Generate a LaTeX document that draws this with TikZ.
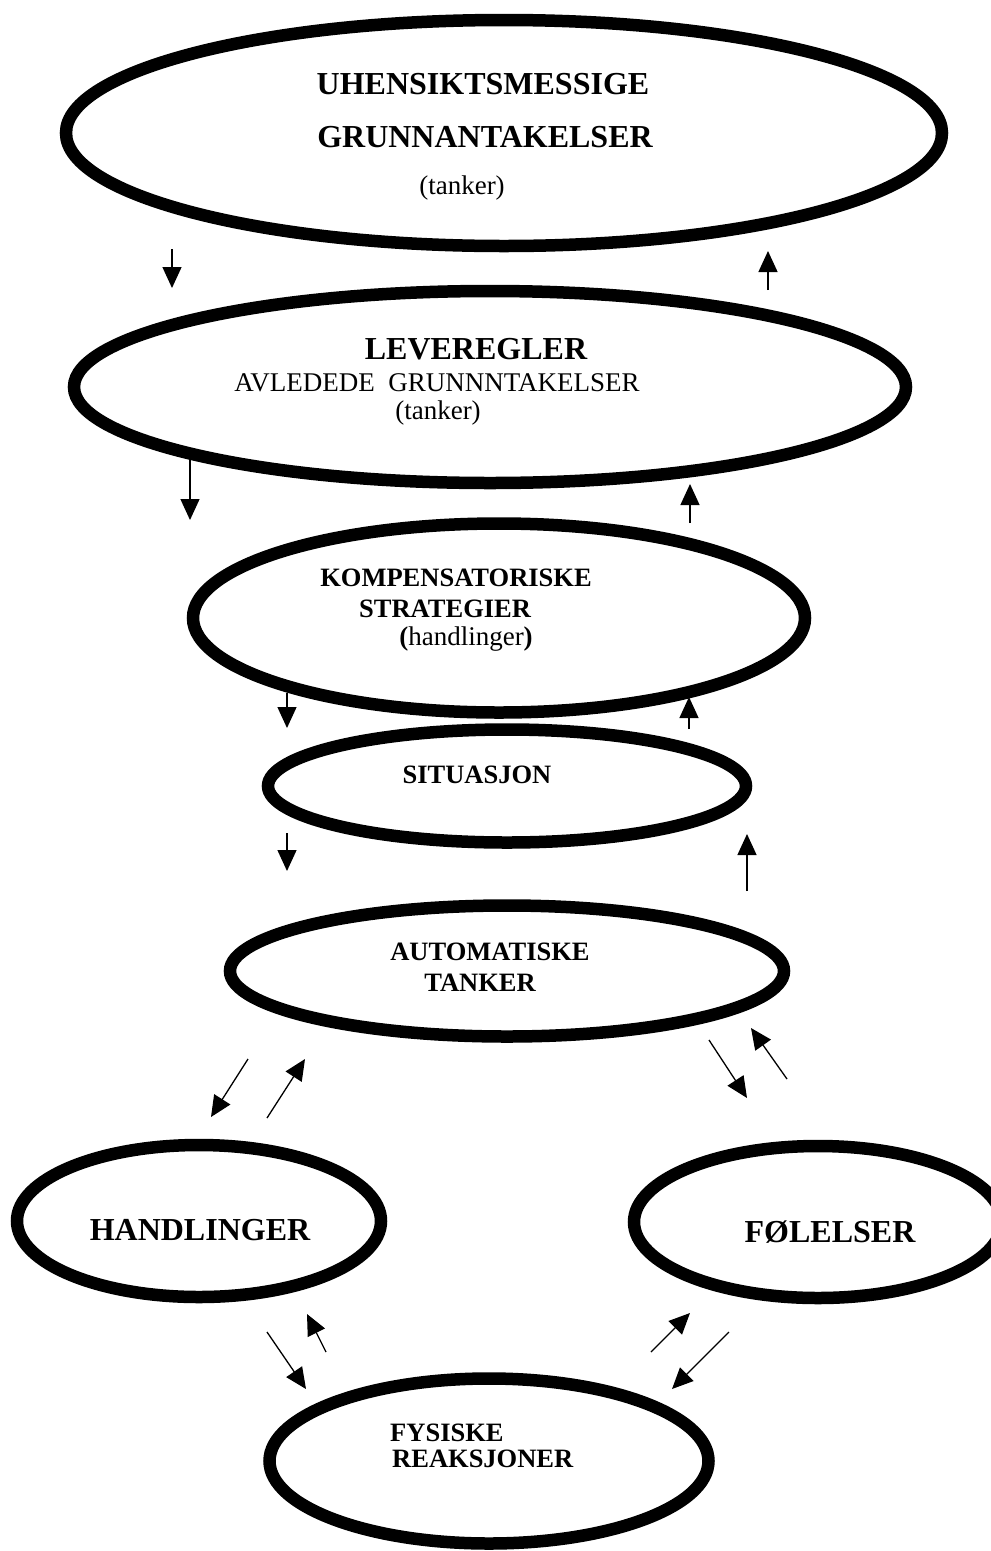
\documentclass[tikz,border=0pt]{standalone}
\usepackage{fontspec}
\setmainfont{Liberation Serif}
\usetikzlibrary{shapes.geometric,arrows.meta}
\tikzset{
  boble/.style={draw, ellipse, line width=12.5pt, inner sep=0pt},
  pil/.style={line width=1.3pt, -{Triangle[length=21pt,width=19pt]}},
  storfet/.style={font=\fontsize{32}{36}\selectfont\bfseries, inner sep=0pt, anchor=base},
  fet/.style={font=\fontsize{26.5}{30}\selectfont\bfseries, inner sep=0pt, anchor=base},
  vanlig/.style={font=\fontsize{27}{30}\selectfont, inner sep=0pt, anchor=base},
}
\begin{document}
\begin{tikzpicture}[x=1pt,y=-1pt]
            \fill[white] (0,0) rectangle (991,1551);
            \useasboundingbox (0,0) rectangle (991,1551);
            % ellipses
            \node[boble, minimum width=876pt, minimum height=226pt] (grunn) at (504,133) {};
            \node[boble, minimum width=832pt, minimum height=192pt] (regler) at (490,387) {};
            \node[boble, minimum width=612pt, minimum height=189pt] (komp) at (499,618) {};
            \node[boble, minimum width=478pt, minimum height=113pt] (sit) at (507,786) {};
            \node[boble, minimum width=554pt, minimum height=131pt] (auto) at (507,971) {};
            \node[boble, minimum width=364pt, minimum height=152pt] (handl) at (199,1221) {};
            \node[boble, minimum width=368pt, minimum height=152pt] (fol) at (818,1222) {};
            \node[boble, minimum width=439pt, minimum height=165pt] (fys) at (489,1461) {};
            % texts
            \node[storfet] (t1a) at (483,94) {UHENSIKTSMESSIGE};
            \node[storfet] (t1b) at (485,147) {GRUNNANTAKELSER};
            \node[vanlig] (t1c) at (462,194) {(tanker)};
            \node[storfet] (t2a) at (476,359) {LEVEREGLER};
            \node[vanlig] (t2b) at (437,391) {AVLEDEDE\ \ GRUNNNTAKELSER};
            \node[vanlig] (t2c) at (438,419) {(tanker)};
            \node[fet] (t3a) at (456,586) {KOMPENSATORISKE};
            \node[fet, anchor=base west] (t3b) at (359,617) {STRATEGIER};
            \node[vanlig] (t3c) at (466,645) {\textbf{(}handlinger\textbf{)}};
            \node[fet] (t4) at (477,783) {SITUASJON};
            \node[fet] (t5a) at (490,960) {AUTOMATISKE};
            \node[fet] (t5b) at (480,991) {TANKER};
            \node[storfet] (t6) at (200,1240) {HANDLINGER};
            \node[storfet] (t7) at (830,1242) {FØLELSER};
            \node[fet, anchor=base west] (t8a) at (390,1441) {FYSISKE};
            \node[fet, anchor=base west] (t8b) at (392,1467) {REAKSJONER};
            % arrow ends
            \coordinate (a1s) at (172,249);  \coordinate (a1e) at (172,288);
            \coordinate (a2s) at (768,290);  \coordinate (a2e) at (768,251);
            \coordinate (a3s) at (190,458);  \coordinate (a3e) at (190,520);
            \coordinate (a4s) at (690,523);  \coordinate (a4e) at (690,484);
            \coordinate (a5s) at (287,693);  \coordinate (a5e) at (287,728);
            \coordinate (a6s) at (689,729);  \coordinate (a6e) at (689,697);
            \coordinate (a7s) at (287,833);  \coordinate (a7e) at (287,871);
            \coordinate (a8s) at (747,891);  \coordinate (a8e) at (747,834);
            \coordinate (a9s) at (248,1059); \coordinate (a9e) at (211,1117);
            \coordinate (a10s) at (267,1118); \coordinate (a10e) at (305,1059);
            \coordinate (a11s) at (709,1040); \coordinate (a11e) at (747,1098);
            \coordinate (a12s) at (787,1079); \coordinate (a12e) at (751,1028);
            \coordinate (a13s) at (267,1332); \coordinate (a13e) at (306,1389);
            \coordinate (a14s) at (326,1352); \coordinate (a14e) at (307,1314);
            \coordinate (a15s) at (651,1352); \coordinate (a15e) at (690,1313);
            \coordinate (a16s) at (729,1332); \coordinate (a16e) at (672,1389);
            % arrows
            \foreach \i in {1,...,16}
              \draw[pil] (a\i s) -- (a\i e);
\end{tikzpicture}
\end{document}
